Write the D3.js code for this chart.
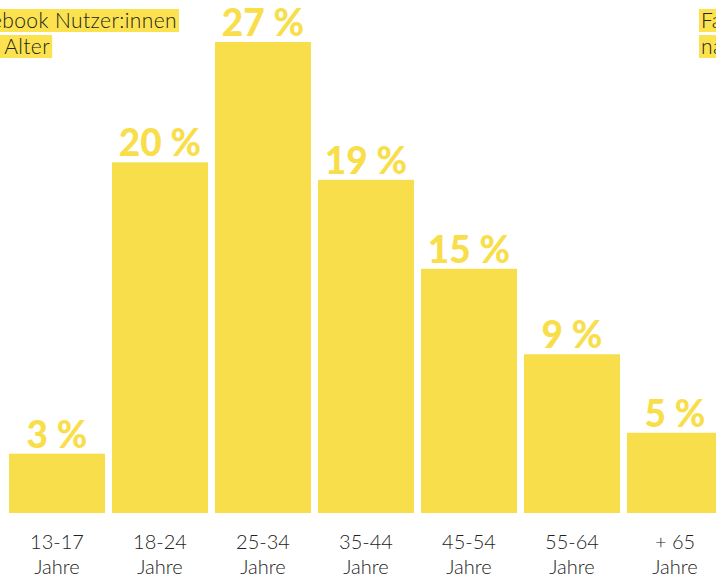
<!DOCTYPE html>
<html><head><meta charset="utf-8">
<script src="https://cdn.jsdelivr.net/npm/d3@7"></script>
<style>
html,body{margin:0;padding:0;background:#fff;overflow:hidden;}
svg{display:block;}
</style></head>
<body>
<svg id="chart" width="716" height="578"></svg>
<script>
const categories = ["13-17", "18-24", "25-34", "35-44", "45-54", "55-64", "+ 65"];
const unitLabel = "Jahre";
const values = [3.4, 20.1, 27, 19.1, 14, 9.1, 4.6];
const valueLabels = ["3 %", "20 %", "27 %", "19 %", "15 %", "9 %", "5 %"];
const titleLines = ["Facebook Nutzer:innen", "nach Alter"];

const yellow = "#f9de4b";
const dark = "#222222";
const svg = d3.select("#chart");

const x = d3.scaleBand().domain(categories).range([5.5, 726.5]).paddingInner(7/103).paddingOuter(0.5*7/103);
const y = d3.scaleLinear().domain([0, 27]).range([513, 42]);

svg.selectAll("rect.bar").data(categories).join("rect")
  .attr("class","bar")
  .attr("x", d => x(d)).attr("width", x.bandwidth())
  .attr("y", (d,i) => y(values[i])).attr("height", (d,i) => y(0) - y(values[i]))
  .attr("fill", yellow);

svg.selectAll("text.val").data(categories).join("text")
  .attr("class","val")
  .attr("x", d => x(d) + x.bandwidth()/2)
  .attr("y", (d,i) => y(values[i]) - 6)
  .attr("text-anchor","middle")
  .attr("font-family","Lato, sans-serif").attr("font-weight",900)
  .attr("font-size",37).attr("fill",yellow)
  .text((d,i) => valueLabels[i]);

const xl = svg.selectAll("text.cat").data(categories).join("text")
  .attr("class","cat")
  .attr("text-anchor","middle")
  .attr("font-family","Lato, sans-serif").attr("font-weight",300)
  .attr("font-size",20).attr("fill",dark);
xl.append("tspan").attr("x", d => x(d) + x.bandwidth()/2).attr("y",549).text(d => d);
xl.append("tspan").attr("x", d => x(d) + x.bandwidth()/2).attr("y",574).text(unitLabel);

// Title highlights: left (clipped) and right (clipped)
function titleBlock(anchor, xs) {
  titleLines.forEach((line, i) => {
    const ty = 28 + i*26;
    const g = svg.append("g");
    const r = g.append("rect").attr("fill", "#fbe24e");
    const t = g.append("text").attr("x", xs[i]).attr("y", ty)
      .attr("text-anchor", anchor)
      .attr("font-family","Lato, sans-serif").attr("font-weight",300)
      .attr("font-size",21).attr("letter-spacing",0.4).attr("fill",dark).text(line);
    const bb = t.node().getBBox();
    r.attr("x", bb.x - 2).attr("y", ty - 19).attr("width", bb.width + 4).attr("height", 23);
  });
}
titleBlock("end", [177, 50]);
titleBlock("start", [701, 701]);
</script>
</body></html>
